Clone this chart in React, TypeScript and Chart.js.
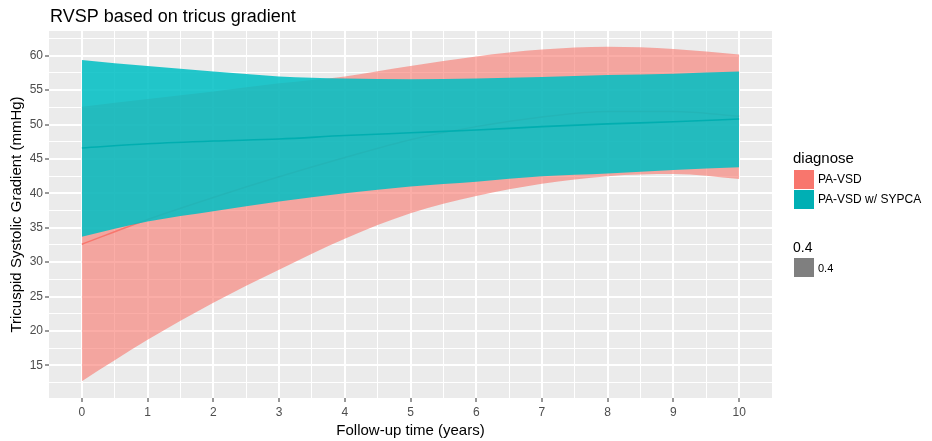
import React, { useEffect, useRef } from 'react';
import { Chart, registerables } from 'chart.js';

Chart.register(...registerables);

// ---- data ----
const YEARS = [0, 1, 2, 3, 4, 5, 6, 7, 8, 9, 10];

const PAVSD_LOWER = [12.7, 18.7, 24.1, 28.9, 33.4, 37.1, 39.6, 41.4, 42.5, 42.8, 42.1];
const PAVSD_UPPER = [52.6, 53.7, 54.8, 56.0, 57.0, 58.5, 59.9, 60.9, 61.3, 61.0, 60.2];
const PAVSD_FIT = [32.6, 36.2, 39.4, 42.4, 45.2, 47.8, 49.7, 51.1, 51.9, 51.9, 51.2];

const SYPCA_LOWER = [33.7, 35.9, 37.4, 38.8, 40.0, 41.0, 41.7, 42.5, 42.9, 43.4, 43.8];
const SYPCA_UPPER = [59.4, 58.5, 57.7, 57.0, 56.7, 56.6, 56.7, 56.9, 57.2, 57.4, 57.7];
const SYPCA_FIT = [46.6, 47.2, 47.6, 47.9, 48.4, 48.8, 49.2, 49.7, 50.1, 50.4, 50.8];

const X_TICKS = [0, 1, 2, 3, 4, 5, 6, 7, 8, 9, 10];
const Y_TICKS = [15, 20, 25, 30, 35, 40, 45, 50, 55, 60];

const TITLE = 'RVSP based on tricus gradient';
const X_TITLE = 'Follow-up time (years)';
const Y_TITLE = 'Tricuspid Systolic Gradient (mmHg)';
const LEGEND_TITLE = 'diagnose';
const GROUPS = ['PA-VSD', 'PA-VSD w/ SYPCA'];
const ALPHA_TITLE = '0.4';
const ALPHA_LABEL = '0.4';

const FONT = "'Liberation Sans', Arial, sans-serif";

const withMinors = (major: number[]) => {
  const step = major[1] - major[0];
  const out: number[] = [];
  major.forEach((v) => out.push(v));
  out.push(major[0] - step / 2);
  for (let i = 0; i < major.length; i++) out.push(major[i] + step / 2);
  return out.sort((a, b) => a - b);
};

const panelBg = {
  id: 'panelBg',
  beforeDraw(chart: any) {
    const { ctx, chartArea: a } = chart;
    ctx.save();
    ctx.fillStyle = '#EBEBEB';
    ctx.fillRect(a.left, a.top, a.right - a.left, a.bottom - a.top);
    ctx.restore();
  },
};

const texts = {
  id: 'texts',
  afterDraw(chart: any) {
    const { ctx, chartArea: a } = chart;
    ctx.save();
    ctx.fillStyle = '#000';
    ctx.textAlign = 'left';
    ctx.textBaseline = 'alphabetic';
    ctx.font = `18px ${FONT}`;
    ctx.fillText(TITLE, a.left + 1, 21.5);

    // legend
    const lx = 793;
    ctx.font = `15px ${FONT}`;
    ctx.fillText(LEGEND_TITLE, lx, 163);
    const keyColors = ['#F8766D', '#00AFB4'];
    GROUPS.forEach((g, i) => {
      const ky = 170 + i * 20;
      ctx.fillStyle = keyColors[i];
      ctx.fillRect(794, ky, 20, 19);
      ctx.fillStyle = '#000';
      ctx.font = `12px ${FONT}`;
      ctx.textBaseline = 'middle';
      ctx.fillText(g, 818, ky + 10);
      ctx.textBaseline = 'alphabetic';
    });

    ctx.font = `14px ${FONT}`;
    ctx.fillStyle = '#000';
    ctx.fillText(ALPHA_TITLE, lx, 252);
    ctx.fillStyle = '#7F7F7F';
    ctx.fillRect(794, 258, 20, 19);
    ctx.fillStyle = '#000';
    ctx.font = `11px ${FONT}`;
    ctx.textBaseline = 'middle';
    ctx.fillText(ALPHA_LABEL, 818, 269);
    ctx.restore();
  },
};

export default function App() {
  const ref = useRef<HTMLCanvasElement>(null);

  useEffect(() => {
    if (!ref.current) return;
    const pts = (ys: number[]) => YEARS.map((x, i) => ({ x, y: ys[i] }));
    const xAll = withMinors(X_TICKS).filter((v) => v > -0.5 && v < 10.5);
    const yAll = withMinors(Y_TICKS);
    const isMajorX = (v: number) => X_TICKS.includes(v);
    const isMajorY = (v: number) => Y_TICKS.includes(v);

    const base = {
      pointRadius: 0,
      cubicInterpolationMode: 'monotone' as const,
    };

    const chart = new Chart(ref.current, {
      type: 'line',
      data: {
        datasets: [
          { ...base, label: 'PA-VSD lower', data: pts(PAVSD_LOWER), borderWidth: 0, borderColor: 'rgba(0,0,0,0)', fill: false, order: 4 },
          { ...base, label: 'PA-VSD upper', data: pts(PAVSD_UPPER), borderWidth: 0, borderColor: 'rgba(0,0,0,0)', backgroundColor: 'rgba(248,118,109,0.6)', fill: '-1', order: 4 },
          { ...base, label: 'PA-VSD', data: pts(PAVSD_FIT), borderWidth: 1.5, borderColor: '#F8766D', fill: false, order: 3 },
          { ...base, label: 'SYPCA lower', data: pts(SYPCA_LOWER), borderWidth: 0, borderColor: 'rgba(0,0,0,0)', fill: false, order: 2 },
          { ...base, label: 'SYPCA upper', data: pts(SYPCA_UPPER), borderWidth: 0, borderColor: 'rgba(0,0,0,0)', backgroundColor: 'rgba(0,191,196,0.86)', fill: '-1', order: 2 },
          { ...base, label: 'PA-VSD w/ SYPCA', data: pts(SYPCA_FIT), borderWidth: 1.6, borderColor: '#00AEB0', fill: false, order: 1 },
        ],
      },
      options: {
        responsive: false,
        animation: false,
        events: [],
        layout: { padding: { left: 0, right: 160, top: 31, bottom: 0 } },
        plugins: {
          legend: { display: false },
          tooltip: { enabled: false },
          title: { display: false },
        },
        scales: {
          x: {
            type: 'linear',
            min: -0.5,
            max: 10.5,
            afterBuildTicks: (s: any) => {
              s.ticks = xAll.map((v) => ({ value: v }));
            },
            afterFit: (s: any) => {
              s.height = 43;
            },
            ticks: {
              autoSkip: false,
              maxRotation: 0,
              padding: 3,
              color: '#4D4D4D',
              font: { family: FONT, size: 12 },
              callback: (v: any) => (isMajorX(Number(v)) ? String(v) : ''),
            },
            grid: {
              color: '#FFFFFF',
              lineWidth: (c: any) => (c.tick && isMajorX(c.tick.value) ? 2 : 1),
              drawTicks: true,
              tickLength: 4,
              tickWidth: 1,
              tickColor: (c: any) => (c.tick && isMajorX(c.tick.value) ? '#333333' : 'rgba(0,0,0,0)'),
            },
            border: { display: false },
            title: {
              display: true,
              text: X_TITLE,
              color: '#000',
              font: { family: FONT, size: 15 },
              padding: { top: 0, bottom: 1 },
            },
          },
          y: {
            type: 'linear',
            min: 10.25,
            max: 63.6,
            afterBuildTicks: (s: any) => {
              s.ticks = yAll.map((v) => ({ value: v }));
            },
            afterFit: (s: any) => {
              s.width = 49;
            },
            ticks: {
              autoSkip: false,
              padding: 2,
              color: '#4D4D4D',
              font: { family: FONT, size: 12 },
              callback: (v: any) => (isMajorY(Number(v)) ? String(v) : ''),
            },
            grid: {
              color: '#FFFFFF',
              lineWidth: (c: any) => (c.tick && isMajorY(c.tick.value) ? 2 : 1),
              drawTicks: true,
              tickLength: 4,
              tickWidth: 1,
              tickColor: (c: any) => (c.tick && isMajorY(c.tick.value) ? '#333333' : 'rgba(0,0,0,0)'),
            },
            border: { display: false },
            title: {
              display: true,
              text: Y_TITLE,
              color: '#000',
              font: { family: FONT, size: 15 },
              padding: { top: 8, bottom: 0 },
            },
          },
        },
      },
      plugins: [panelBg, texts],
    });
    return () => chart.destroy();
  }, []);

  return (
    <div style={{ position: 'absolute', left: 0, top: 0, width: 932, height: 441, background: '#FFFFFF' }}>
      <canvas ref={ref} width={932} height={441} style={{ display: 'block', width: 932, height: 441 }} />
    </div>
  );
}
